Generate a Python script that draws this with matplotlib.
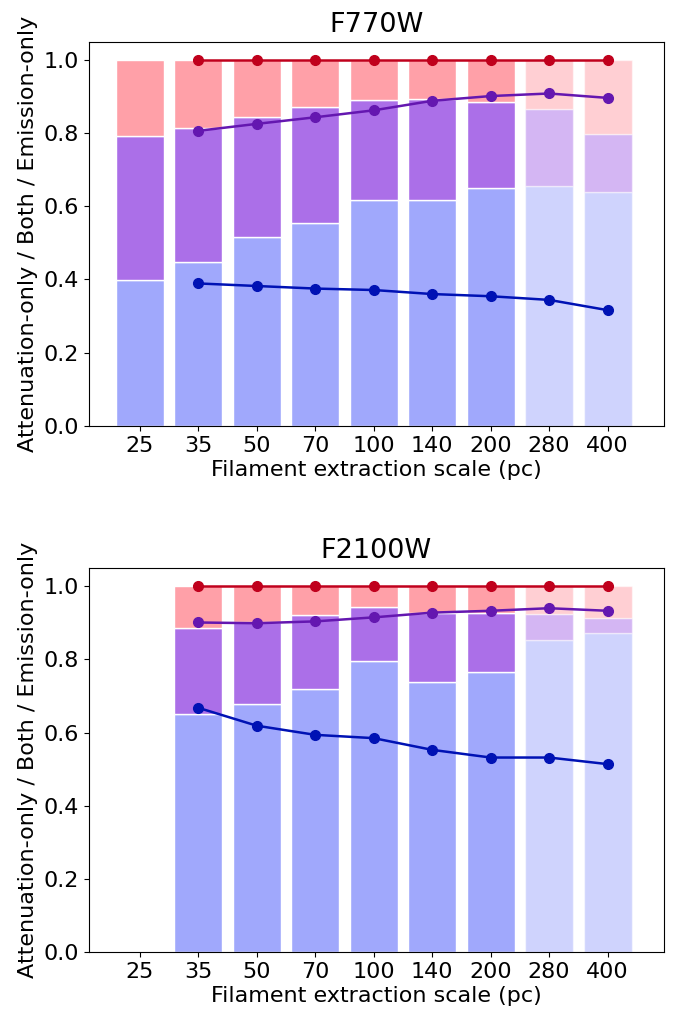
import matplotlib
matplotlib.use('Agg')
import matplotlib.pyplot as plt
import numpy as np

scales = ['25', '35', '50', '70', '100', '140', '200', '280', '400']

# F770W: cumulative bar tops (attenuation-only, + both), total = 1
f770_att = [0.398, 0.448, 0.515, 0.553, 0.617, 0.617, 0.651, 0.656, 0.639]
f770_both = [0.791, 0.815, 0.843, 0.870, 0.891, 0.892, 0.886, 0.866, 0.797]
f770_tot = [1.0, 1.0, 1.0, 1.0, 1.0, 1.0, 1.0, 1.0, 1.0]
f770_line_att = [np.nan, 0.389, 0.382, 0.375, 0.371, 0.360, 0.354, 0.344, 0.316]
f770_line_both = [np.nan, 0.806, 0.825, 0.843, 0.862, 0.888, 0.901, 0.908, 0.896]
f770_line_tot = [np.nan, 1.0, 1.0, 1.0, 1.0, 1.0, 1.0, 1.0, 1.0]

# F2100W (no 25 pc bar)
f2100_att = [np.nan, 0.651, 0.678, 0.718, 0.796, 0.739, 0.765, 0.853, 0.873]
f2100_both = [np.nan, 0.886, 0.902, 0.922, 0.942, 0.928, 0.926, 0.924, 0.912]
f2100_tot = [np.nan, 1.0, 1.0, 1.0, 1.0, 1.0, 1.0, 1.0, 1.0]
f2100_line_att = [np.nan, 0.668, 0.619, 0.594, 0.585, 0.553, 0.532, 0.532, 0.514]
f2100_line_both = [np.nan, 0.901, 0.899, 0.904, 0.915, 0.928, 0.933, 0.940, 0.933]
f2100_line_tot = [np.nan, 1.0, 1.0, 1.0, 1.0, 1.0, 1.0, 1.0, 1.0]

# the two largest scales are drawn faded
faded = [False, False, False, False, False, False, False, True, True]

c_att, c_both, c_em = '#a0a8fc', '#ab6fe8', '#ffa0a8'
l_att, l_both, l_em = '#0012b4', '#6417b0', '#c0001c'

plt.rcParams['font.size'] = 16

fig, axes = plt.subplots(2, 1, figsize=(6.78, 10.13), dpi=100)


def draw(ax, att, both, tot, la, lb, lt, title):
    x = np.arange(len(scales))
    att = np.array(att)
    both = np.array(both)
    tot = np.array(tot)
    for i in x:
        if np.isnan(att[i]):
            continue
        a = 0.5 if faded[i] else 1.0
        ax.bar(i, att[i], width=0.82, color=c_att, alpha=a, edgecolor='white', linewidth=1)
        ax.bar(i, both[i] - att[i], bottom=att[i], width=0.82, color=c_both, alpha=a,
               edgecolor='white', linewidth=1)
        ax.bar(i, tot[i] - both[i], bottom=both[i], width=0.82, color=c_em, alpha=a,
               edgecolor='white', linewidth=1)
    ax.plot(x, lt, '-o', color=l_em, ms=7, lw=1.8)
    ax.plot(x, lb, '-o', color=l_both, ms=7, lw=1.8)
    ax.plot(x, la, '-o', color=l_att, ms=7, lw=1.8)
    ax.set_xticks(x)
    ax.set_xticklabels(scales)
    ax.set_xlim(-0.87, 8.96)
    ax.set_ylim(0, 1.05)
    ax.set_yticks([0.0, 0.2, 0.4, 0.6, 0.8, 1.0])
    ax.set_title(title, fontsize=19.5, pad=7)
    ax.set_xlabel('Filament extraction scale (pc)', labelpad=3)
    ax.set_ylabel('Attenuation-only / Both / Emission-only', labelpad=4)


draw(axes[0], f770_att, f770_both, f770_tot, f770_line_att, f770_line_both, f770_line_tot, 'F770W')
draw(axes[1], f2100_att, f2100_both, f2100_tot, f2100_line_att, f2100_line_both, f2100_line_tot, 'F2100W')

fig.subplots_adjust(left=0.131, right=0.979, top=0.959, bottom=0.06, hspace=0.37)
fig.savefig('out.png')
